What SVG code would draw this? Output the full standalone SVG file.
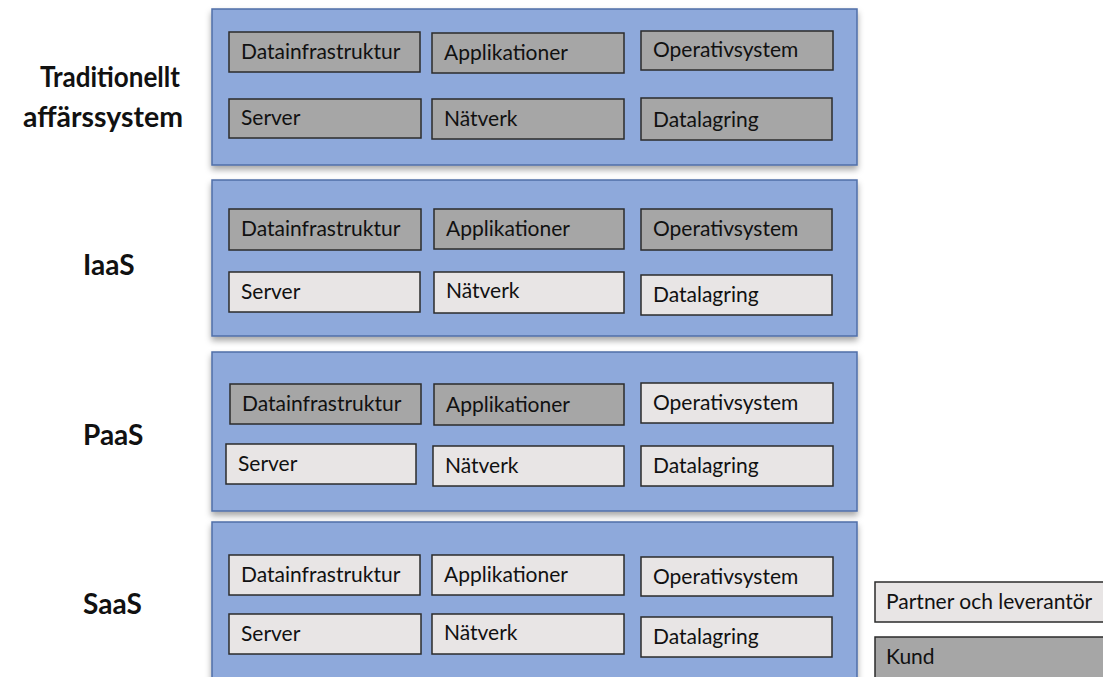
<svg xmlns="http://www.w3.org/2000/svg" width="1103" height="677" viewBox="0 0 1103 677">
<defs>
<style>
.panel{fill:#8EA9DB;stroke:#4F6FA8;stroke-width:1.5;filter:url(#sh)}
.dk{fill:#A6A6A6;stroke:#2b2b2b;stroke-width:1.5}
.lt{fill:#E8E5E5;stroke:#2b2b2b;stroke-width:1.5}
.bt{font-family:Lato,"Liberation Sans",sans-serif;font-size:21px;fill:#111}
.lb{font-family:Lato,"Liberation Sans",sans-serif;font-size:28px;font-weight:bold;fill:#111}
</style>
<filter id="sh" x="-5%" y="-10%" width="110%" height="125%">
<feDropShadow dx="0" dy="4" stdDeviation="3" flood-color="#000" flood-opacity="0.35"/>
</filter>
</defs>
<rect width="1103" height="677" fill="#fff"/>
<g id="labels">
<text class="lb" x="40" y="87" textLength="140" lengthAdjust="spacingAndGlyphs">Traditionellt</text>
<text class="lb" x="23" y="127" textLength="160" lengthAdjust="spacingAndGlyphs">affärssystem</text>
<text class="lb" x="83" y="275">IaaS</text>
<text class="lb" x="83" y="445">PaaS</text>
<text class="lb" x="83" y="614">SaaS</text>
</g>
<g id="panel-traditionellt">
<rect class="panel" x="212" y="9" width="645" height="156"/>
<rect class="dk" x="229" y="32" width="191" height="40"/><text class="bt" x="241" y="59">Datainfrastruktur</text>
<rect class="dk" x="432" y="33" width="192" height="40"/><text class="bt" x="444" y="60">Applikationer</text>
<rect class="dk" x="641" y="31" width="192" height="39"/><text class="bt" x="653" y="57">Operativsystem</text>
<rect class="dk" x="229" y="99" width="192" height="39"/><text class="bt" x="241" y="125">Server</text>
<rect class="dk" x="432" y="99" width="192" height="40"/><text class="bt" x="444" y="126">Nätverk</text>
<rect class="dk" x="641" y="98" width="191" height="42"/><text class="bt" x="653" y="127">Datalagring</text>
</g>
<g id="panel-iaas">
<rect class="panel" x="212" y="180" width="645" height="156"/>
<rect class="dk" x="229" y="209" width="192" height="41"/><text class="bt" x="241" y="236">Datainfrastruktur</text>
<rect class="dk" x="434" y="209" width="190" height="40"/><text class="bt" x="446" y="236">Applikationer</text>
<rect class="dk" x="641" y="209" width="191" height="41"/><text class="bt" x="653" y="236">Operativsystem</text>
<rect class="lt" x="229" y="272" width="191" height="40"/><text class="bt" x="241" y="299">Server</text>
<rect class="lt" x="434" y="272" width="190" height="41"/><text class="bt" x="446" y="298">Nätverk</text>
<rect class="lt" x="641" y="275" width="191" height="40"/><text class="bt" x="653" y="302">Datalagring</text>
</g>
<g id="panel-paas">
<rect class="panel" x="212" y="352" width="645" height="159"/>
<rect class="dk" x="230" y="384" width="191" height="40"/><text class="bt" x="242" y="411">Datainfrastruktur</text>
<rect class="dk" x="434" y="384" width="190" height="41"/><text class="bt" x="446" y="412">Applikationer</text>
<rect class="lt" x="641" y="383" width="192" height="40"/><text class="bt" x="653" y="410">Operativsystem</text>
<rect class="lt" x="226" y="444" width="190" height="40"/><text class="bt" x="238" y="471">Server</text>
<rect class="lt" x="433" y="446" width="191" height="40"/><text class="bt" x="445" y="473">Nätverk</text>
<rect class="lt" x="641" y="446" width="192" height="40"/><text class="bt" x="653" y="473">Datalagring</text>
</g>
<g id="panel-saas">
<rect class="panel" x="212" y="522" width="645" height="170"/>
<rect class="lt" x="229" y="555" width="191" height="40"/><text class="bt" x="241" y="582">Datainfrastruktur</text>
<rect class="lt" x="432" y="555" width="192" height="40"/><text class="bt" x="444" y="582">Applikationer</text>
<rect class="lt" x="641" y="557" width="192" height="39"/><text class="bt" x="653" y="584">Operativsystem</text>
<rect class="lt" x="229" y="614" width="192" height="40"/><text class="bt" x="241" y="641">Server</text>
<rect class="lt" x="432" y="614" width="192" height="40"/><text class="bt" x="444" y="640">Nätverk</text>
<rect class="lt" x="641" y="617" width="191" height="40"/><text class="bt" x="653" y="644">Datalagring</text>
</g>
<g id="legend-partner">
<rect class="lt" x="875" y="582" width="240" height="40"/><text class="bt" x="886" y="609">Partner och leverantör</text>
</g>
<g id="legend-kund">
<rect class="dk" x="875" y="637" width="240" height="45"/><text class="bt" x="886" y="664">Kund</text>
</g>
<g id="connectors"/>
</svg>
